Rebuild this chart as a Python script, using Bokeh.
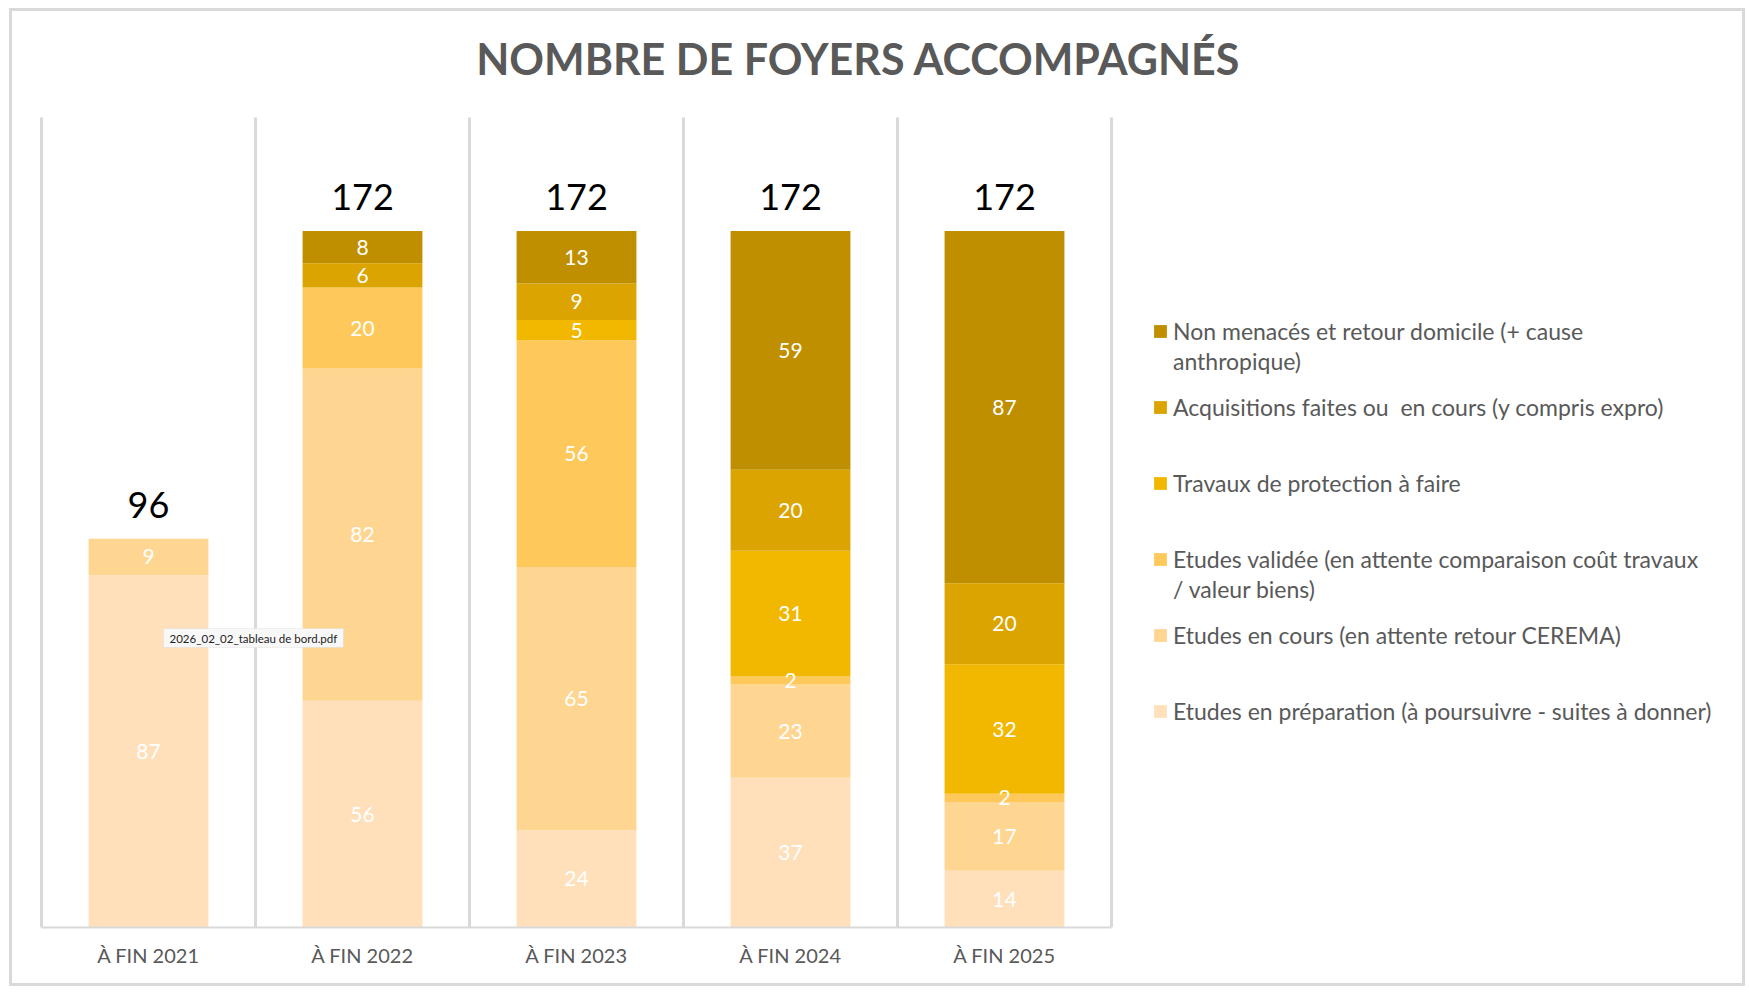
from bokeh.plotting import figure
from bokeh.models import (ColumnDataSource, Range1d, Legend, LegendItem, Label,
                          BoxAnnotation, FixedTicker)
from bokeh.core.properties import value
from bokeh.embed import file_html
from bokeh.resources import INLINE

# ---- data ----
title_text = "NOMBRE DE FOYERS ACCOMPAGNÉS"
years = ["À FIN 2021", "À FIN 2022", "À FIN 2023", "À FIN 2024", "À FIN 2025"]
series_keys = ["prep", "cours", "validee", "travaux", "acquis", "non_menaces"]
# legend texts, wrapped as in the original legend (first line, second line)
series_labels = [
    ["Etudes en préparation (à poursuivre - suites à donner)"],
    ["Etudes en cours (en attente retour CEREMA)"],
    ["Etudes validée (en attente comparaison coût travaux", "/ valeur biens)"],
    ["Travaux de protection à faire"],
    ["Acquisitions faites ou  en cours (y compris expro)"],
    ["Non menacés et retour domicile (+ cause", "anthropique)"],
]
prep = [87, 56, 24, 37, 14]
cours = [9, 82, 65, 23, 17]
validee = [0, 20, 56, 2, 2]
travaux = [0, 0, 5, 31, 32]
acquis = [0, 6, 9, 20, 20]
non_menaces = [0, 8, 13, 59, 87]
totals = [96, 172, 172, 172, 172]
y_max = 200
tooltip_text = "2026_02_02_tableau de bord.pdf"

colors = ["#FFE0BB", "#FFD592", "#FFC85A", "#F2B800", "#DBA400", "#BF8F00"]

# ---- layout constants (pixels) ----
W, H = 1730, 972
bottom_px = 56          # room for the category axis
top_px = 106            # space above the plot area
left_px = 29            # plot area left edge
cat_px = 214            # width of one category slot

series = [prep, cours, validee, travaux, acquis, non_menaces]
xpos = list(range(len(years)))
src = ColumnDataSource(dict(x=xpos, year=years, **{k: v for k, v in zip(series_keys, series)}))

# segment labels (centre of each non-empty segment)
lx, ly, lt = [], [], []
for i in xpos:
    base = 0
    for s in series:
        v = s[i]
        if v > 0:
            lx.append(i)
            ly.append(base + v / 2)
            lt.append(str(v))
        base += v
lab_src = ColumnDataSource(dict(x=lx, y=ly, t=lt))
tot_src = ColumnDataSource(dict(x=xpos, y=totals, t=[str(t) for t in totals]))

x_start = -0.5 - left_px / cat_px
frame_h = H - bottom_px
px_per_unit = (frame_h - top_px) / y_max

p = figure(
    x_range=Range1d(x_start, x_start + W / cat_px),
    y_range=Range1d(0, frame_h / px_per_unit),
    width=W, height=H,
    output_backend="svg", toolbar_location=None,
    min_border_left=0, min_border_right=0, min_border_top=0, min_border_bottom=bottom_px,
)
p.styles = {"outline": "3px solid #d9d9d9", "margin-left": "12px", "margin-top": "11px"}
p.outline_line_color = None
p.xgrid.visible = False
p.ygrid.visible = False
p.yaxis.visible = False

# title (centred over chart + legend)
p.add_layout(Label(x=846, y=frame_h - 47, x_units="screen", y_units="screen", text=title_text,
                   text_font="Lato", text_font_style="bold", text_font_size="43px",
                   text_color="#595959", text_align="center", text_baseline="middle"))

# category separators
bounds = [i - 0.5 for i in range(len(years) + 1)]
p.segment(x0=bounds, x1=bounds, y0=[0] * len(bounds), y1=[y_max] * len(bounds),
          line_color="#d9d9d9", line_width=3)

renderers = p.vbar_stack(series_keys, x="x", width=0.56, source=src,
                         fill_color=colors, line_color=None)

p.text(x="x", y="y", text="t", source=lab_src, text_color="white",
       text_font=value("Lato"), text_font_size="21px",
       text_align="center", text_baseline="middle")
p.text(x="x", y="y", text="t", source=tot_src, text_color="black",
       text_font=value("Lato"), text_font_size="36px",
       text_align="center", text_baseline="middle", y_offset=-34)

ax = p.xaxis[0]
ax.ticker = FixedTicker(ticks=xpos)
ax.major_label_overrides = {i: yr for i, yr in zip(xpos, years)}
ax.bounds = (bounds[0], bounds[-1])
ax.axis_line_color = "#d9d9d9"
ax.axis_line_width = 2
ax.major_tick_line_color = None
ax.minor_tick_line_color = None
ax.major_label_text_font = "Lato"
ax.major_label_text_font_size = "20px"
ax.major_label_text_color = "#595959"
ax.major_label_standoff = 9

leg_style = dict(margin=0, padding=0, label_text_font="Lato", label_text_font_size="23px",
                 label_text_color="#595959", glyph_width=16, glyph_height=16,
                 label_standoff=5, label_height=30,
                 border_line_color=None, background_fill_alpha=0)

# first lines of the legend, with the colour squares
items = [LegendItem(label=series_labels[j][0], renderers=[renderers[j]])
         for j in reversed(range(len(series_keys)))]
p.add_layout(Legend(items=items, location=(1140, 201), spacing=46, **leg_style))

# second lines of the wrapped legend entries (no square)
blank = p.vbar(x=[], top=[], width=0.5, fill_alpha=0, line_alpha=0)
items2 = [LegendItem(label=series_labels[j][1], renderers=[blank])
          for j in reversed(range(len(series_keys))) if len(series_labels[j]) > 1]
p.add_layout(Legend(items=items2, location=(1140, 323), spacing=198, **leg_style))

# pdf tooltip box
p.add_layout(BoxAnnotation(left=151, right=331, bottom=280, top=299,
                           left_units="screen", right_units="screen",
                           bottom_units="screen", top_units="screen",
                           fill_color="#f8f8f8", fill_alpha=1,
                           line_color="#d0d0d0", line_width=1))
p.add_layout(Label(x=157, y=289.5, x_units="screen", y_units="screen", text=tooltip_text,
                   text_font="Lato", text_font_size="11.5px", text_color="#222222",
                   text_baseline="middle"))

open("out.html", "w").write(file_html(p, INLINE))
